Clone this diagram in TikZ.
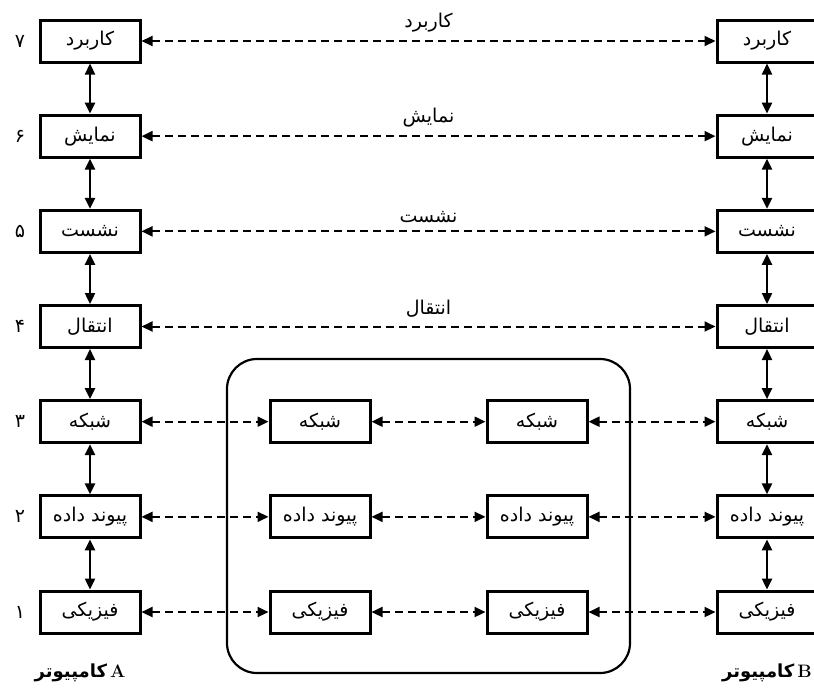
\documentclass[tikz,border=0pt]{standalone}
\usepackage{fontspec}
\usetikzlibrary{arrows.meta}
\TeXXeTstate=1
\newfontfamily\farsi[Script=Arabic]{DejaVu Sans}
\newcommand{\fa}[1]{{\farsi\beginR #1\endR}}

\begin{document}
\begin{tikzpicture}[x=1pt,y=-1pt,>={Triangle[length=11pt,width=10pt]},font=\fontsize{19}{22}\selectfont]
  \tikzstyle{layer}=[draw,line width=3pt,minimum width=100pt,minimum height=42pt,inner sep=0pt]
  \tikzstyle{link}=[<->,line width=2.3pt]
  \tikzstyle{peer}=[<->,line width=2pt,dash pattern=on 8pt off 5pt]
  \useasboundingbox (0,0) rectangle (814,689);

  \node[draw,line width=2.2pt,rounded corners=30pt,minimum width=403pt,minimum height=314pt] (net) at (428.5,516) {};

  \foreach \n/\d/\txt in {7/۷/کاربرد,6/۶/نمایش,5/۵/نشست,4/۴/انتقال,3/۳/شبکه,2/۲/پیوند داده,1/۱/فیزیکی}{
    \node[layer] (A\n) at (90,{41+(7-\n)*95.17}) {\fa{\txt}};
    \node[layer] (B\n) at (767,{41+(7-\n)*95.17}) {\fa{\txt}};
    \node (N\n) at (20,{41+(7-\n)*95.17}) {\fa{\d}};
  }
  \foreach \n/\m in {1/2,2/3,3/4,4/5,5/6,6/7}{
    \draw[link] (A\n) -- (A\m);
    \draw[link] (B\n) -- (B\m);
  }
  \foreach \n/\txt in {7/کاربرد,6/نمایش,5/نشست,4/انتقال}
    \draw[peer] (A\n) -- node[above=8pt,inner sep=0pt] {\fa{\txt}} (B\n);

  \foreach \n/\txt in {3/شبکه,2/پیوند داده,1/فیزیکی}{
    \node[layer] (L\n) at (320,{41+(7-\n)*95.17}) {\fa{\txt}};
    \node[layer] (R\n) at (537,{41+(7-\n)*95.17}) {\fa{\txt}};
    \draw[peer] (A\n) -- (L\n);
    \draw[peer] (L\n) -- (R\n);
    \draw[peer] (R\n) -- (B\n);
  }

  \node[font=\fontsize{18}{22}\selectfont\bfseries] (compA) at (80,673) {\fa{کامپیوتر}\,\textbf{A}};
  \node[font=\fontsize{18}{22}\selectfont\bfseries] (compB) at (767,673) {\fa{کامپیوتر}\,\textbf{B}};
\end{tikzpicture}
\end{document}
